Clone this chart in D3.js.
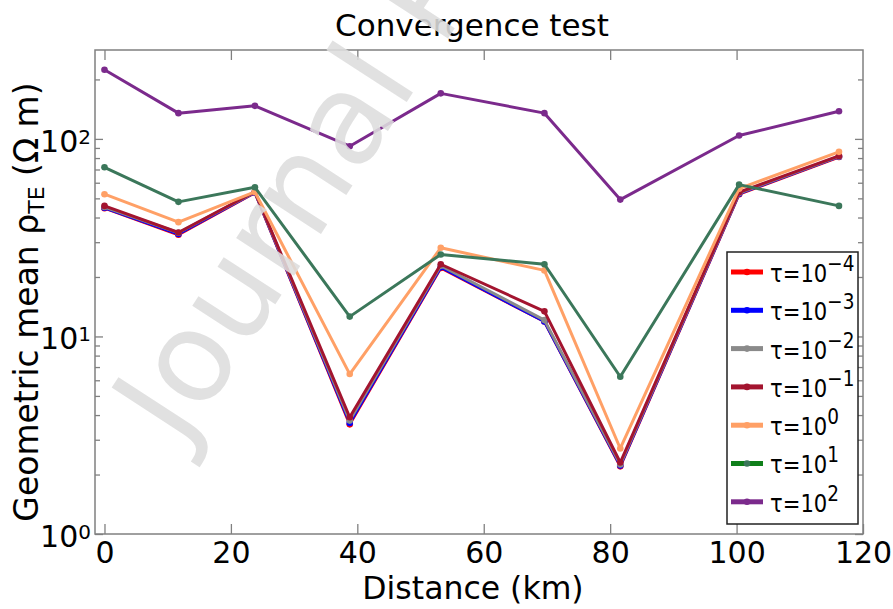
<!DOCTYPE html>
<html>
<head>
<meta charset="utf-8">
<script src="https://cdn.jsdelivr.net/npm/d3@7"></script>
<style>
  html, body { margin: 0; padding: 0; background: #fff; }
  svg { display: block; font-family: "DejaVu Sans", Verdana, sans-serif; }
</style>
</head>
<body>
<svg id="chart" width="893" height="609"></svg>
<script>
// Profile distances (km) of the stations
const distance = [0, 11.7, 23.8, 38.8, 53.2, 69.6, 81.6, 100.4, 116.2];

// Geometric mean TE resistivity (ohm m) for each regularisation weight tau
const tauM4 = [44.6, 32.7, 53.5, 3.59, 22.2, 11.9, 2.20, 52.5, 81.0];
const tauM3 = [44.8, 33.0, 53.6, 3.65, 22.4, 11.9, 2.22, 52.8, 81.3];
const tauM2 = [45.2, 33.5, 53.8, 3.75, 22.8, 12.1, 2.25, 53.2, 81.5];
const tauM1 = [45.8, 33.6, 54.0, 3.90, 23.2, 13.4, 2.30, 53.7, 82.0];
const tau0  = [52.5, 37.9, 53.9, 6.45, 28.1, 21.6, 2.71, 56.0, 86.0];
const tau1  = [71.8, 48.0, 56.9, 12.6, 26.0, 23.2, 6.25, 58.7, 45.8];
const tau2  = [224, 135, 147, 91.8, 170, 135, 49.3, 104, 138];

const seriesExp = ["−4", "−3", "−2", "−1", "0", "1", "2"];
const seriesValues = [tauM4, tauM3, tauM2, tauM1, tau0, tau1, tau2];
const lineColors   = ["#ff0000", "#0000ff", "#8a8a8a", "#a3142f", "#ffa066", "#3b775a", "#7b2a8c"];
const legendColors = ["#ff0000", "#0000ff", "#8a8a8a", "#a3142f", "#ffa066", "#0f7f1a", "#7b2a8c"];
const markerColors = ["#ff0000", "#0000ff", "#8a8a8a", "#a3142f", "#ffa066", "#3b775a", "#7b2a8c"];

const xTicks = [0, 20, 40, 60, 80, 100, 120];
const yDecades = [1, 10, 100];
const yDecadeExp = ["0", "1", "2"];

const svg = d3.select("#chart");
const plotL = 95, plotR = 863, plotT = 50, plotB = 534;

const x = d3.scaleLinear().domain([-1.5, 120]).range([plotL, plotR]);
const y = d3.scaleLog().domain([1, Math.pow(10, 2.45)]).range([plotB, plotT]);

const axisGray = "#808080";

// minor log ticks 2..9 per decade within range
const yMinor = [];
[1, 10, 100].forEach(d => { for (let k = 2; k <= 9; k++) { const v = d * k; if (v <= y.domain()[1]) yMinor.push(v); } });

// data lines
const line = d3.line().x((d, i) => x(distance[i])).y(d => y(d));
const gData = svg.append("g");
seriesValues.forEach((vals, s) => {
  gData.append("path")
    .attr("d", line(vals))
    .attr("fill", "none")
    .attr("stroke", lineColors[s])
    .attr("stroke-width", 3)
    .attr("stroke-linejoin", "round");
  gData.selectAll(null).data(vals).enter().append("circle")
    .attr("cx", (d, i) => x(distance[i]))
    .attr("cy", d => y(d))
    .attr("r", 3.3)
    .attr("fill", markerColors[s]);
});

// axes (ticks point inward)
function styleAxis(g) {
  g.select(".domain").remove();
  g.selectAll(".tick line").attr("stroke", axisGray).attr("stroke-width", 1.3);
}
svg.append("g").attr("transform", `translate(0,${plotB})`)
  .call(d3.axisBottom(x).tickValues(xTicks).tickSizeInner(-10).tickSizeOuter(0).tickPadding(8))
  .call(styleAxis)
  .call(g => g.selectAll(".tick text").attr("font-size", 30).attr("fill", "#000")
    .attr("font-family", "DejaVu Sans"));
svg.append("g").attr("transform", `translate(0,${plotT})`)
  .call(d3.axisTop(x).tickValues(xTicks.filter(v => v < 120)).tickSizeInner(-10).tickSizeOuter(0).tickFormat(""))
  .call(styleAxis);
svg.append("g").attr("transform", `translate(${plotL},0)`)
  .call(d3.axisLeft(y).tickValues(yDecades).tickSizeInner(-8).tickSizeOuter(0).tickFormat(""))
  .call(styleAxis);
svg.append("g").attr("transform", `translate(${plotL},0)`)
  .call(d3.axisLeft(y).tickValues(yMinor).tickSizeInner(-5).tickSizeOuter(0).tickFormat(""))
  .call(styleAxis);
svg.append("g").attr("transform", `translate(${plotR},0)`)
  .call(d3.axisRight(y).tickValues(yDecades).tickSizeInner(-8).tickSizeOuter(0).tickFormat(""))
  .call(styleAxis);
svg.append("g").attr("transform", `translate(${plotR},0)`)
  .call(d3.axisRight(y).tickValues(yMinor).tickSizeInner(-5).tickSizeOuter(0).tickFormat(""))
  .call(styleAxis);

// y decade labels 10^n
const yLab = svg.append("g");
yDecades.forEach((v, i) => {
  const t = yLab.append("text")
    .attr("x", 91).attr("y", y(v) + 13)
    .attr("text-anchor", "end").attr("font-size", 30).attr("fill", "#000");
  t.append("tspan").text("10");
  t.append("tspan").attr("font-size", 20).attr("dy", -8).text(yDecadeExp[i]);
});

// frame
svg.append("rect")
  .attr("x", plotL).attr("y", plotT).attr("width", plotR - plotL).attr("height", plotB - plotT)
  .attr("fill", "none").attr("stroke", axisGray).attr("stroke-width", 1.5);

// title and axis labels
svg.append("text").attr("x", 472).attr("y", 36)
  .attr("text-anchor", "middle").attr("font-size", 31).text("Convergence test");
svg.append("text").attr("x", (plotL + plotR) / 2 - 6).attr("y", 599)
  .attr("text-anchor", "middle").attr("font-size", 31.5).text("Distance (km)");
const yl = svg.append("text")
  .attr("transform", "translate(38,302) rotate(-90)")
  .attr("text-anchor", "middle").attr("font-size", 33);
yl.append("tspan").text("Geometric mean ρ");
yl.append("tspan").attr("font-size", 22).attr("dy", 6).text("TE");
yl.append("tspan").attr("dy", -6).text(" (Ω m)");

// legend
const lg = svg.append("g");
lg.append("rect").attr("x", 727).attr("y", 252).attr("width", 131).attr("height", 272)
  .attr("fill", "#fff").attr("stroke", "#222").attr("stroke-width", 1.5);
seriesExp.forEach((e, s) => {
  const cy = 272 + s * 38.3;
  lg.append("line").attr("x1", 731).attr("x2", 763).attr("y1", cy).attr("y2", cy)
    .attr("stroke", legendColors[s]).attr("stroke-width", 5);
  lg.append("circle").attr("cx", 747).attr("cy", cy).attr("r", 3.3).attr("fill", markerColors[s]);
  const t = lg.append("text").attr("x", 770).attr("y", cy + 10)
    .attr("font-size", 24).attr("fill", "#000")
    .attr("transform", `translate(770,0) scale(0.88,1) translate(-770,0)`);
  t.append("tspan").text("τ=10");
  t.append("tspan").attr("font-size", 21).attr("dy", -11).text(e);
});

// watermark
svg.append("text")
  .attr("transform", "translate(182,448) rotate(-57)")
  .attr("font-size", 126).attr("fill", "#dedede").attr("opacity", 0.88)
  .text("Journal Pre-proof");
</script>
</body>
</html>
